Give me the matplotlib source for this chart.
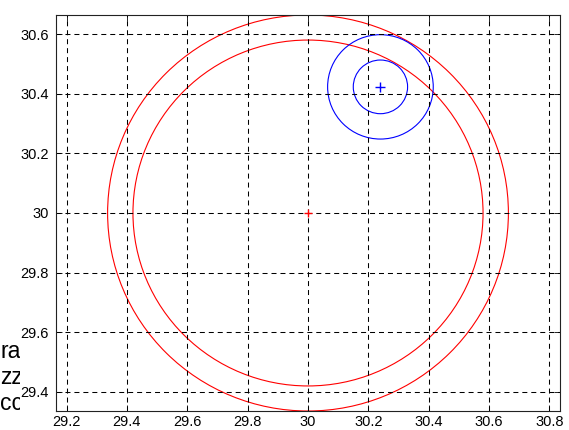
import matplotlib
matplotlib.use("Agg")
import matplotlib.pyplot as plt
from matplotlib.patches import Circle
from matplotlib.transforms import Bbox

plt.rcParams['font.family'] = ['Liberation Sans', 'DejaVu Sans']

# Data
red_center = (30.0, 30.0)
red_radii = [0.58, 0.664]
blue_center = (30.24, 30.423)
blue_radii = [0.09, 0.175]
xticks = [29.2, 29.4, 29.6, 29.8, 30.0, 30.2, 30.4, 30.6, 30.8]
xticklabels = ["29.2", "29.4", "29.6", "29.8", "30", "30.2", "30.4", "30.6", "30.8"]
yticks = [29.4, 29.6, 29.8, 30.0, 30.2, 30.4, 30.6]
yticklabels = ["29.4", "29.6", "29.8", "30", "30.2", "30.4", "30.6"]
side_texts = ["ra", "zz", "cc", "ss"]

W, H = 569, 430
fig = plt.figure(figsize=(W / 100, H / 100), dpi=100)
fig.patch.set_facecolor('white')
ax = fig.add_axes([56 / W, (H - 411) / H, (560 - 56) / W, (411 - 15) / H])
ax.set_facecolor('white')

for r in red_radii:
    ax.add_patch(Circle(red_center, r, fill=False, edgecolor='red', linewidth=0.8))
for r in blue_radii:
    ax.add_patch(Circle(blue_center, r, fill=False, edgecolor='blue', linewidth=0.8))
ax.plot([red_center[0]], [red_center[1]], marker='+', color='red', markersize=6, mew=1.0, linestyle='none')
ax.plot([blue_center[0]], [blue_center[1]], marker='+', color='blue', markersize=7, mew=1.0, linestyle='none')

ax.set_xlim(29.165, 30.835)
ax.set_ylim(29.336, 30.664)
ax.set_xticks(xticks)
ax.set_xticklabels(xticklabels)
ax.set_yticks(yticks)
ax.set_yticklabels(yticklabels)
ax.tick_params(direction='in', top=True, right=True, length=4, width=0.6, labelsize=10.5, colors='black')
ax.tick_params(axis='x', pad=3)
ax.tick_params(axis='y', pad=5)
ax.grid(True, color='black', linestyle=(0, (4.8, 3.8)), linewidth=0.75)
for s in ax.spines.values():
    s.set_linewidth(0.8)
    s.set_color('#222222')

clip = Bbox.from_extents(0, 0, 20, H)
ys = [351, 378, 404, 437]
for t, yy in zip(side_texts, ys):
    txt = fig.text(0 / W, 1 - yy / H, t + "x", fontsize=16.5, va='center', ha='left', zorder=-5)
    txt.set_clip_box(clip)
    txt.set_clip_on(True)

fig.savefig("out.png", dpi=100)
